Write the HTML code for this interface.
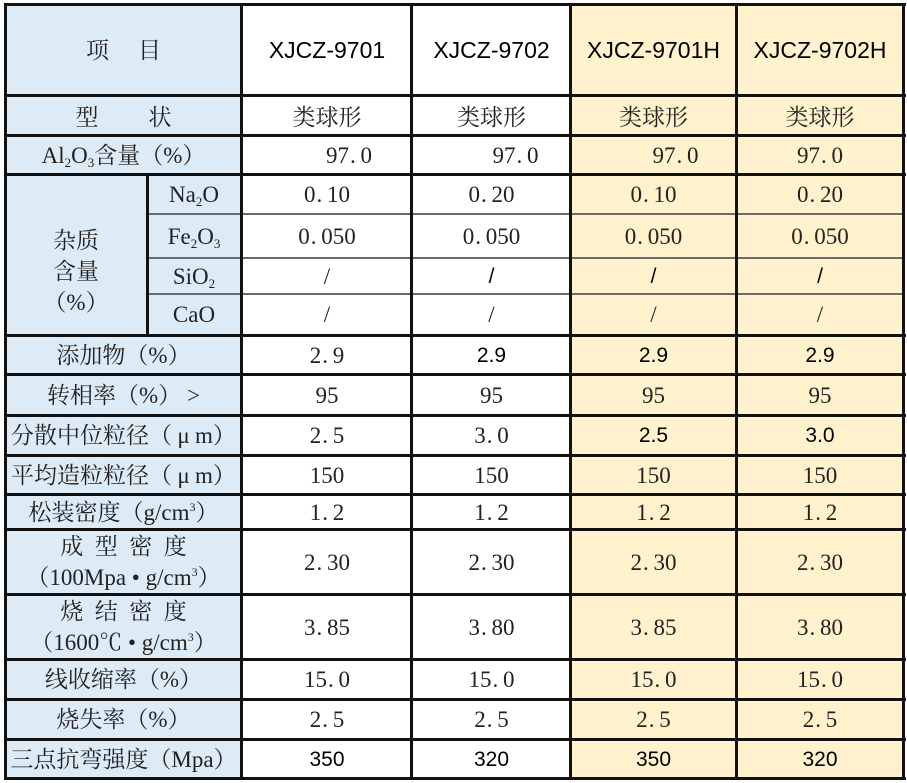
<!DOCTYPE html>
<html>
<head>
<meta charset="utf-8">
<style>
*{margin:0;padding:0;box-sizing:border-box}
html,body{width:907px;height:783px;background:#fff;overflow:hidden}
body{position:relative;font-family:"Liberation Serif","Noto Serif CJK SC",serif;color:#222}
.bg{position:absolute}
.v{position:absolute;width:3px;background:#111}
.h{position:absolute;height:3px;background:#111}
.t{position:absolute;height:2px;background:#6a6a6a}
.c{position:absolute;display:flex;align-items:center;justify-content:center;white-space:nowrap;font-size:23px;line-height:1}
.c>span{display:inline-block;white-space:nowrap}
.s{font-family:"Liberation Sans","Noto Sans CJK SC",sans-serif;font-size:21px;color:#000}
.hd{font-family:"Liberation Sans","Noto Sans CJK SC",sans-serif;font-size:23px;color:#000}
.p{display:inline-block;width:11.5px;text-align:left;padding-left:1px}
sub{font-size:13px;vertical-align:-4px;line-height:0}
sup{font-size:12px;vertical-align:9px;line-height:0}
.mu{display:inline-block;width:23px;text-align:center}
.two{display:block;position:absolute;font-size:23px;text-align:center;white-space:nowrap}
.two div{display:block;height:31px;line-height:31px;text-align:center}
</style>
</head>
<body>
<!-- backgrounds -->
<div class="bg" style="left:6px;top:4px;width:236px;height:775px;background:#DDEBF7"></div>
<div class="bg" style="left:571px;top:4px;width:333px;height:775px;background:#FFF2CC"></div>

<!-- thin lines in impurity section -->
<div class="t" style="left:147px;top:212.5px;width:757px"></div>
<div class="t" style="left:147px;top:257px;width:757px"></div>
<div class="t" style="left:147px;top:293px;width:757px"></div>

<!-- horizontal thick lines -->
<div class="h" style="left:4px;top:2.5px;width:902px"></div>
<div class="h" style="left:4px;top:93.5px;width:902px"></div>
<div class="h" style="left:4px;top:133.5px;width:902px"></div>
<div class="h" style="left:4px;top:172.5px;width:902px"></div>
<div class="h" style="left:4px;top:333.5px;width:902px"></div>
<div class="h" style="left:4px;top:372.5px;width:902px"></div>
<div class="h" style="left:4px;top:413.5px;width:902px"></div>
<div class="h" style="left:4px;top:453.5px;width:902px"></div>
<div class="h" style="left:4px;top:492.5px;width:902px"></div>
<div class="h" style="left:4px;top:528px;width:902px"></div>
<div class="h" style="left:4px;top:592.5px;width:902px"></div>
<div class="h" style="left:4px;top:657.5px;width:902px"></div>
<div class="h" style="left:4px;top:697.5px;width:902px"></div>
<div class="h" style="left:4px;top:737.5px;width:902px"></div>
<div class="h" style="left:4px;top:777px;width:902px"></div>

<!-- vertical lines -->
<div class="v" style="left:4px;top:2.5px;height:777.5px"></div>
<div class="v" style="left:239.8px;top:2.5px;height:777.5px"></div>
<div class="v" style="left:145.5px;top:172.5px;height:163px"></div>
<div class="v" style="left:410.2px;top:2.5px;height:777.5px"></div>
<div class="v" style="left:569px;top:2.5px;height:777.5px"></div>
<div class="v" style="left:734.5px;top:2.5px;height:777.5px"></div>
<div class="v" style="left:902.2px;top:2.5px;height:777.5px"></div>

<!-- Row 0 header -->
<div class="c" style="left:6px;top:5px;width:235px;height:90px"><span>项<span style="display:inline-block;width:29px"></span>目</span></div>
<div class="c hd" style="left:243px;top:5px;width:168px;height:90px"><span>XJCZ-9701</span></div>
<div class="c hd" style="left:413px;top:5px;width:157px;height:90px"><span>XJCZ-9702</span></div>
<div class="c hd" style="left:572px;top:5px;width:163px;height:90px"><span>XJCZ-9701H</span></div>
<div class="c hd" style="left:737px;top:5px;width:166px;height:90px"><span>XJCZ-9702H</span></div>

<!-- Row 1 -->
<div class="c" style="left:6px;top:97px;width:235px;height:40px"><span>型<span style="display:inline-block;width:50px"></span>状</span></div>
<div class="c" style="left:243px;top:97px;width:168px;height:40px"><span>类球形</span></div>
<div class="c" style="left:413px;top:97px;width:157px;height:40px"><span>类球形</span></div>
<div class="c" style="left:572px;top:97px;width:163px;height:40px"><span>类球形</span></div>
<div class="c" style="left:737px;top:97px;width:166px;height:40px"><span>类球形</span></div>

<!-- Row 2 -->
<div class="c" style="left:6px;top:136px;width:235px;height:38px"><span>Al<sub>2</sub>O<sub>3</sub>含量（%）</span></div>
<div class="c" style="left:243px;top:136px;width:168px;height:38px;padding-left:44px"><span>97<span class="p">.</span>0</span></div>
<div class="c" style="left:413px;top:136px;width:157px;height:38px;padding-left:48px"><span>97<span class="p">.</span>0</span></div>
<div class="c" style="left:572px;top:136px;width:163px;height:38px;padding-left:44px"><span>97<span class="p">.</span>0</span></div>
<div class="c" style="left:737px;top:136px;width:166px;height:38px"><span>97<span class="p">.</span>0</span></div>

<!-- Impurity group label -->
<div class="two" style="left:6px;top:225px;width:140px;height:93px"><div>杂质</div><div>含量</div><div>（%）</div></div>

<!-- Row 3 Na2O -->
<div class="c" style="left:148px;top:175px;width:92px;height:38px"><span>Na<sub>2</sub>O</span></div>
<div class="c" style="left:243px;top:175px;width:168px;height:38px"><span>0<span class="p">.</span>10</span></div>
<div class="c" style="left:413px;top:175px;width:157px;height:38px"><span>0<span class="p">.</span>20</span></div>
<div class="c" style="left:572px;top:175px;width:163px;height:38px"><span>0<span class="p">.</span>10</span></div>
<div class="c" style="left:737px;top:175px;width:166px;height:38px"><span>0<span class="p">.</span>20</span></div>

<!-- Row 4 Fe2O3 -->
<div class="c" style="left:148px;top:214px;width:92px;height:44px"><span>Fe<sub>2</sub>O<sub>3</sub></span></div>
<div class="c" style="left:243px;top:214px;width:168px;height:44px"><span>0<span class="p">.</span>050</span></div>
<div class="c" style="left:413px;top:214px;width:157px;height:44px"><span>0<span class="p">.</span>050</span></div>
<div class="c" style="left:572px;top:214px;width:163px;height:44px"><span>0<span class="p">.</span>050</span></div>
<div class="c" style="left:737px;top:214px;width:166px;height:44px"><span>0<span class="p">.</span>050</span></div>

<!-- Row 5 SiO2 -->
<div class="c" style="left:148px;top:259px;width:92px;height:35px"><span>SiO<sub>2</sub></span></div>
<div class="c" style="left:243px;top:259px;width:168px;height:35px"><span>/</span></div>
<div class="c s" style="left:413px;top:259px;width:157px;height:35px"><span>/</span></div>
<div class="c s" style="left:572px;top:259px;width:163px;height:35px"><span>/</span></div>
<div class="c s" style="left:737px;top:259px;width:166px;height:35px"><span>/</span></div>

<!-- Row 6 CaO -->
<div class="c" style="left:148px;top:295px;width:92px;height:39px"><span>CaO</span></div>
<div class="c" style="left:243px;top:295px;width:168px;height:39px"><span>/</span></div>
<div class="c" style="left:413px;top:295px;width:157px;height:39px"><span>/</span></div>
<div class="c" style="left:572px;top:295px;width:163px;height:39px"><span>/</span></div>
<div class="c" style="left:737px;top:295px;width:166px;height:39px"><span>/</span></div>

<!-- Row 7 添加物 -->
<div class="c" style="left:6px;top:336px;width:235px;height:38px"><span>添加物（%）</span></div>
<div class="c" style="left:243px;top:336px;width:168px;height:38px"><span>2<span class="p">.</span>9</span></div>
<div class="c s" style="left:413px;top:336px;width:157px;height:38px"><span>2.9</span></div>
<div class="c s" style="left:572px;top:336px;width:163px;height:38px"><span>2.9</span></div>
<div class="c s" style="left:737px;top:336px;width:166px;height:38px"><span>2.9</span></div>

<!-- Row 8 转相率 -->
<div class="c" style="left:6px;top:375px;width:235px;height:40px"><span>转相率（%）&nbsp;&gt;</span></div>
<div class="c" style="left:243px;top:375px;width:168px;height:40px"><span>95</span></div>
<div class="c" style="left:413px;top:375px;width:157px;height:40px"><span>95</span></div>
<div class="c" style="left:572px;top:375px;width:163px;height:40px"><span>95</span></div>
<div class="c" style="left:737px;top:375px;width:166px;height:40px"><span>95</span></div>

<!-- Row 9 分散中位粒径 -->
<div class="c" style="left:6px;top:416px;width:235px;height:39px"><span>分散中位粒径（<span class="mu">μ</span>m）</span></div>
<div class="c" style="left:243px;top:416px;width:168px;height:39px"><span>2<span class="p">.</span>5</span></div>
<div class="c" style="left:413px;top:416px;width:157px;height:39px"><span>3<span class="p">.</span>0</span></div>
<div class="c s" style="left:572px;top:416px;width:163px;height:39px"><span>2.5</span></div>
<div class="c s" style="left:737px;top:416px;width:166px;height:39px"><span>3.0</span></div>

<!-- Row 10 平均造粒粒径 -->
<div class="c" style="left:6px;top:456px;width:235px;height:38px"><span>平均造粒粒径（<span class="mu">μ</span>m）</span></div>
<div class="c" style="left:243px;top:456px;width:168px;height:38px"><span>150</span></div>
<div class="c" style="left:413px;top:456px;width:157px;height:38px"><span>150</span></div>
<div class="c" style="left:572px;top:456px;width:163px;height:38px"><span>150</span></div>
<div class="c" style="left:737px;top:456px;width:166px;height:38px"><span>150</span></div>

<!-- Row 11 松装密度 -->
<div class="c" style="left:6px;top:495px;width:235px;height:34px"><span>松装密度（g/cm<sup>3</sup>）</span></div>
<div class="c" style="left:243px;top:495px;width:168px;height:34px"><span>1<span class="p">.</span>2</span></div>
<div class="c" style="left:413px;top:495px;width:157px;height:34px"><span>1<span class="p">.</span>2</span></div>
<div class="c" style="left:572px;top:495px;width:163px;height:34px"><span>1<span class="p">.</span>2</span></div>
<div class="c" style="left:737px;top:495px;width:166px;height:34px"><span>1<span class="p">.</span>2</span></div>

<!-- Row 12 成型密度 -->
<div class="two" style="left:6px;top:531px;width:235px;height:62px"><div>成&ensp;型&ensp;密&ensp;度</div><div>（100Mpa&nbsp;•&nbsp;g/cm<sup>3</sup>）</div></div>
<div class="c" style="left:243px;top:531px;width:168px;height:62px"><span>2<span class="p">.</span>30</span></div>
<div class="c" style="left:413px;top:531px;width:157px;height:62px"><span>2<span class="p">.</span>30</span></div>
<div class="c" style="left:572px;top:531px;width:163px;height:62px"><span>2<span class="p">.</span>30</span></div>
<div class="c" style="left:737px;top:531px;width:166px;height:62px"><span>2<span class="p">.</span>30</span></div>

<!-- Row 13 烧结密度 -->
<div class="two" style="left:6px;top:596px;width:235px;height:62px"><div>烧&ensp;结&ensp;密&ensp;度</div><div>（1600℃&nbsp;•&nbsp;g/cm<sup>3</sup>）</div></div>
<div class="c" style="left:243px;top:596px;width:168px;height:62px"><span>3<span class="p">.</span>85</span></div>
<div class="c" style="left:413px;top:596px;width:157px;height:62px"><span>3<span class="p">.</span>80</span></div>
<div class="c" style="left:572px;top:596px;width:163px;height:62px"><span>3<span class="p">.</span>85</span></div>
<div class="c" style="left:737px;top:596px;width:166px;height:62px"><span>3<span class="p">.</span>80</span></div>

<!-- Row 14 线收缩率 -->
<div class="c" style="left:6px;top:660px;width:235px;height:38px"><span>线收缩率（%）</span></div>
<div class="c" style="left:243px;top:660px;width:168px;height:38px"><span>15<span class="p">.</span>0</span></div>
<div class="c" style="left:413px;top:660px;width:157px;height:38px"><span>15<span class="p">.</span>0</span></div>
<div class="c" style="left:572px;top:660px;width:163px;height:38px"><span>15<span class="p">.</span>0</span></div>
<div class="c" style="left:737px;top:660px;width:166px;height:38px"><span>15<span class="p">.</span>0</span></div>

<!-- Row 15 烧失率 -->
<div class="c" style="left:6px;top:700px;width:235px;height:38px"><span>烧失率（%）</span></div>
<div class="c" style="left:243px;top:700px;width:168px;height:38px"><span>2<span class="p">.</span>5</span></div>
<div class="c" style="left:413px;top:700px;width:157px;height:38px"><span>2<span class="p">.</span>5</span></div>
<div class="c" style="left:572px;top:700px;width:163px;height:38px"><span>2<span class="p">.</span>5</span></div>
<div class="c" style="left:737px;top:700px;width:166px;height:38px"><span>2<span class="p">.</span>5</span></div>

<!-- Row 16 三点抗弯强度 -->
<div class="c" style="left:6px;top:740px;width:235px;height:38px"><span>三点抗弯强度（Mpa）</span></div>
<div class="c s" style="left:243px;top:740px;width:168px;height:38px"><span>350</span></div>
<div class="c s" style="left:413px;top:740px;width:157px;height:38px"><span>320</span></div>
<div class="c s" style="left:572px;top:740px;width:163px;height:38px"><span>350</span></div>
<div class="c s" style="left:737px;top:740px;width:166px;height:38px"><span>320</span></div>
</body>
</html>
